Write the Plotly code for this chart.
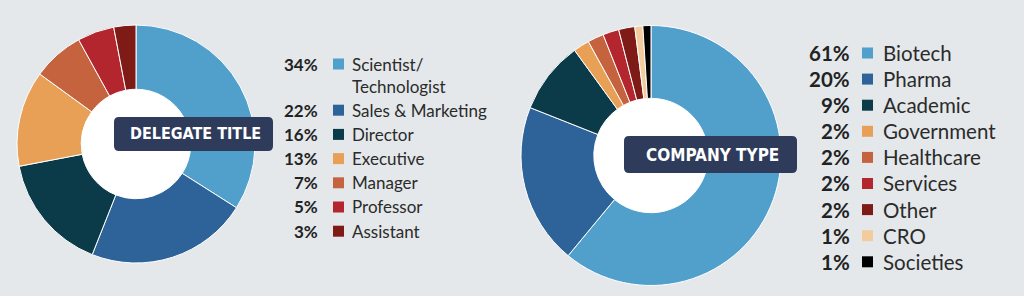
import plotly.graph_objects as go

W, H = 1024, 296

# ---------------- data ----------------
title_labels = ["Scientist/<br>Technologist", "Sales & Marketing", "Director", "Executive",
                "Manager", "Professor", "Assistant"]
title_values = [34, 22, 16, 13, 7, 5, 3]
title_colors = ["#519fcb", "#2e6399", "#0b3a48", "#e8a057", "#c6633f", "#b3262e", "#7e1b17"]

company_labels = ["Biotech", "Pharma", "Academic", "Government", "Healthcare",
                  "Services", "Other", "CRO", "Societies"]
company_values = [61, 20, 9, 2, 2, 2, 2, 1, 1]
company_colors = ["#519fcb", "#2e6399", "#0b3a48", "#e8a057", "#c6633f",
                  "#b3262e", "#7e1b17", "#f3cb9c", "#000000"]

chart_titles = ["DELEGATE TITLE", "COMPANY TYPE"]

BG = "#e4e8ea"
BOX = "#2e3b5b"


def fx(x):
    return x / W


def fy(y):
    return 1 - y / H


fig = go.Figure()
shapes = []
annotations = []

# pie geometry in pixels: (cx, cy, r, hole)
pies = [
    (136, 144, 119, 0.46, title_labels, title_values, title_colors),
    (651, 155.5, 130, 0.44, company_labels, company_values, company_colors),
]

for cx, cy, r, hole, labels, values, colors in pies:
    # white disc visible through the donut hole
    hr = r * hole + 3
    shapes.append(dict(type="circle", xref="paper", yref="paper",
                       x0=fx(cx - hr), x1=fx(cx + hr), y0=fy(cy + hr), y1=fy(cy - hr),
                       fillcolor="white", line=dict(width=0), layer="below"))
    fig.add_trace(go.Pie(
        labels=[l.replace("<br>", "") for l in labels], values=values,
        marker=dict(colors=colors, line=dict(color="white", width=1)),
        hole=hole, sort=False, direction="clockwise", rotation=0,
        textinfo="none", hoverinfo="skip", showlegend=False,
        domain=dict(x=[fx(cx - r), fx(cx + r)], y=[fy(cy + r), fy(cy - r)]),
    ))


# rounded label boxes
def rounded_rect(x0, y0, x1, y1, rad):
    X0, X1 = fx(x0), fx(x1)
    Y0, Y1 = fy(y0), fy(y1)
    rx, ry = rad / W, rad / H
    return (f"M {X0+rx},{Y0} L {X1-rx},{Y0} Q {X1},{Y0} {X1},{Y0-ry} "
            f"L {X1},{Y1+ry} Q {X1},{Y1} {X1-rx},{Y1} L {X0+rx},{Y1} "
            f"Q {X0},{Y1} {X0},{Y1+ry} L {X0},{Y0-ry} Q {X0},{Y0} {X0+rx},{Y0} Z")


boxes = [(114, 117, 273, 151), (624, 136, 797, 173)]
box_font_sizes = [16, 17]
box_text_x = [195, 712]
for (x0, y0, x1, y1), txt, bfs, tx in zip(boxes, chart_titles, box_font_sizes, box_text_x):
    shapes.append(dict(type="path", xref="paper", yref="paper",
                       path=rounded_rect(x0, y0, x1, y1, 5),
                       fillcolor=BOX, line=dict(width=0), layer="above"))
    annotations.append(dict(xref="paper", yref="paper", x=fx(tx),
                            y=fy((y0 + y1) / 2), text=f"<b>{txt}</b>", showarrow=False,
                            xanchor="center", yanchor="middle",
                            font=dict(family="Liberation Sans Narrow, DejaVu Sans Condensed, sans-serif",
                                      size=bfs, color="white")))

# custom legends
legends = [
    # pct right x, swatch x0, label x, first row y, row step, extra line step, font size, swatch size
    (320, 333, 350, 64, 24.2, 22, 17, 11, title_labels, title_values, title_colors),
    (852, 862, 881, 53, 26.1, 26, 20.5, 11, company_labels, company_values, company_colors),
]
for px_r, sw_x, lab_x, y_start, step, lstep, fs, sw, labels, values, colors in legends:
    y = y_start
    for lab, val, col in zip(labels, values, colors):
        nlines = lab.count("<br>") + 1
        annotations.append(dict(xref="paper", yref="paper", x=fx(px_r), y=fy(y),
                                text=f"<b>{val}%</b>", showarrow=False,
                                xanchor="right", yanchor="middle",
                                font=dict(family="Lato, sans-serif", size=fs, color="#222222")))
        shapes.append(dict(type="rect", xref="paper", yref="paper",
                           x0=fx(sw_x), x1=fx(sw_x + sw), y0=fy(y + sw / 2), y1=fy(y - sw / 2),
                           fillcolor=col, line=dict(width=0), layer="above"))
        if nlines == 1:
            annotations.append(dict(xref="paper", yref="paper", x=fx(lab_x), y=fy(y),
                                    text=lab, showarrow=False, xanchor="left", yanchor="middle",
                                    font=dict(family="Lato, sans-serif", size=fs, color="#2b2b2b")))
        else:
            mid = y + (nlines - 1) * lstep / 2
            annotations.append(dict(xref="paper", yref="paper", x=fx(lab_x), y=fy(mid),
                                    text=lab, showarrow=False, xanchor="left", yanchor="middle",
                                    align="left",
                                    font=dict(family="Lato, sans-serif", size=fs, color="#2b2b2b")))
        y += step + (nlines - 1) * lstep

fig.update_layout(
    width=W, height=H,
    margin=dict(l=0, r=0, t=0, b=0),
    paper_bgcolor=BG, plot_bgcolor=BG,
    shapes=shapes, annotations=annotations,
)

fig.write_html("out.html", config={"displayModeBar": False})
